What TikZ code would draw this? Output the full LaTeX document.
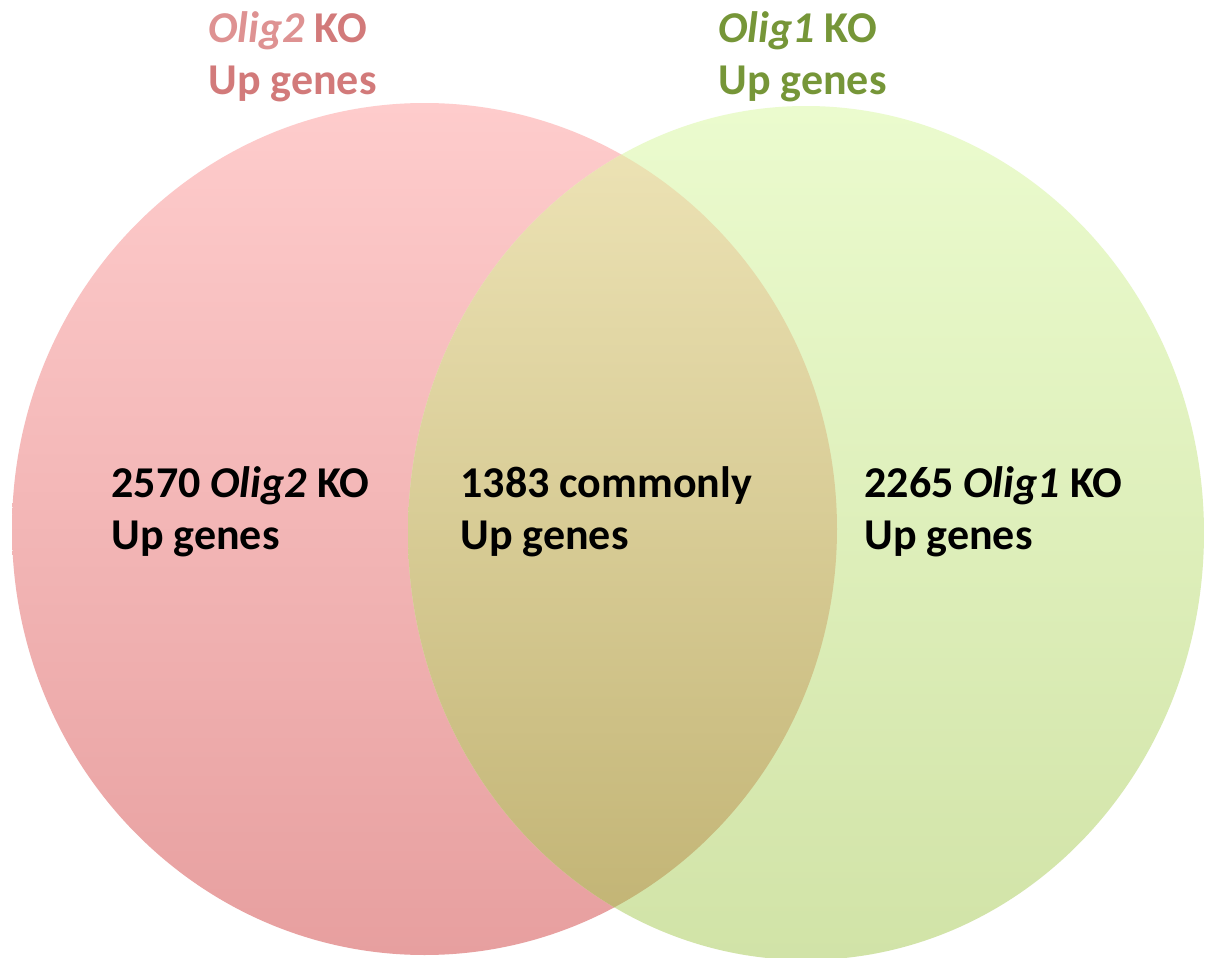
\documentclass[tikz,border=0pt]{standalone}
\usepackage{fontspec}
\setmainfont{Carlito}
\definecolor{pinktop}{RGB}{254,204,204}
\definecolor{pinkbot}{RGB}{231,159,159}
\definecolor{greentop}{RGB}{235,251,206}
\definecolor{greenbot}{RGB}{209,227,167}
\definecolor{ovtop}{RGB}{236,226,180}
\definecolor{ovbot}{RGB}{195,181,118}
\definecolor{titlepink}{RGB}{210,122,122}
\definecolor{titlepinkit}{RGB}{222,146,146}
\definecolor{titlegreen}{RGB}{118,150,56}
\tikzset{
  lbl/.style={anchor=base west, inner sep=0pt, font=\fontsize{22}{26}\selectfont\bfseries},
}
\begin{document}
\begin{tikzpicture}[x=0.5pt,y=-0.5pt]
\useasboundingbox (0,0) rectangle (1212,958);
\fill[white] (0,0) rectangle (1212,958);
% left set
\shade[top color=pinktop, bottom color=pinkbot] (424.5,529) ellipse [x radius=412.5, y radius=426];
% right set
\shade[top color=greentop, bottom color=greenbot] (806,533) ellipse [x radius=398, y radius=427];
% overlap
\begin{scope}
  \clip (424.5,529) ellipse [x radius=412.5, y radius=426];
  \clip (806,533) ellipse [x radius=398, y radius=427];
  \shade[top color=ovtop, bottom color=ovbot] (400,150) rectangle (850,910);
\end{scope}
% titles
\node[lbl, text=titlepink] (t2a) at (208,42) {{\color{titlepinkit}\itshape Olig2} KO};
\node[lbl, text=titlepink] (t2b) at (208,94) {Up genes};
\node[lbl, text=titlegreen] (t1a) at (718,42) {{\itshape Olig1} KO};
\node[lbl, text=titlegreen] (t1b) at (718,94) {Up genes};
% counts
\node[lbl] (l1) at (111,497) {2570 {\itshape Olig2} KO};
\node[lbl] (l2) at (111,549) {Up genes};
\node[lbl] (m1) at (460,497) {1383 commonly};
\node[lbl] (m2) at (460,549) {Up genes};
\node[lbl] (r1) at (864,497) {2265 {\itshape Olig1} KO};
\node[lbl] (r2) at (864,549) {Up genes};
\end{tikzpicture}
\end{document}
